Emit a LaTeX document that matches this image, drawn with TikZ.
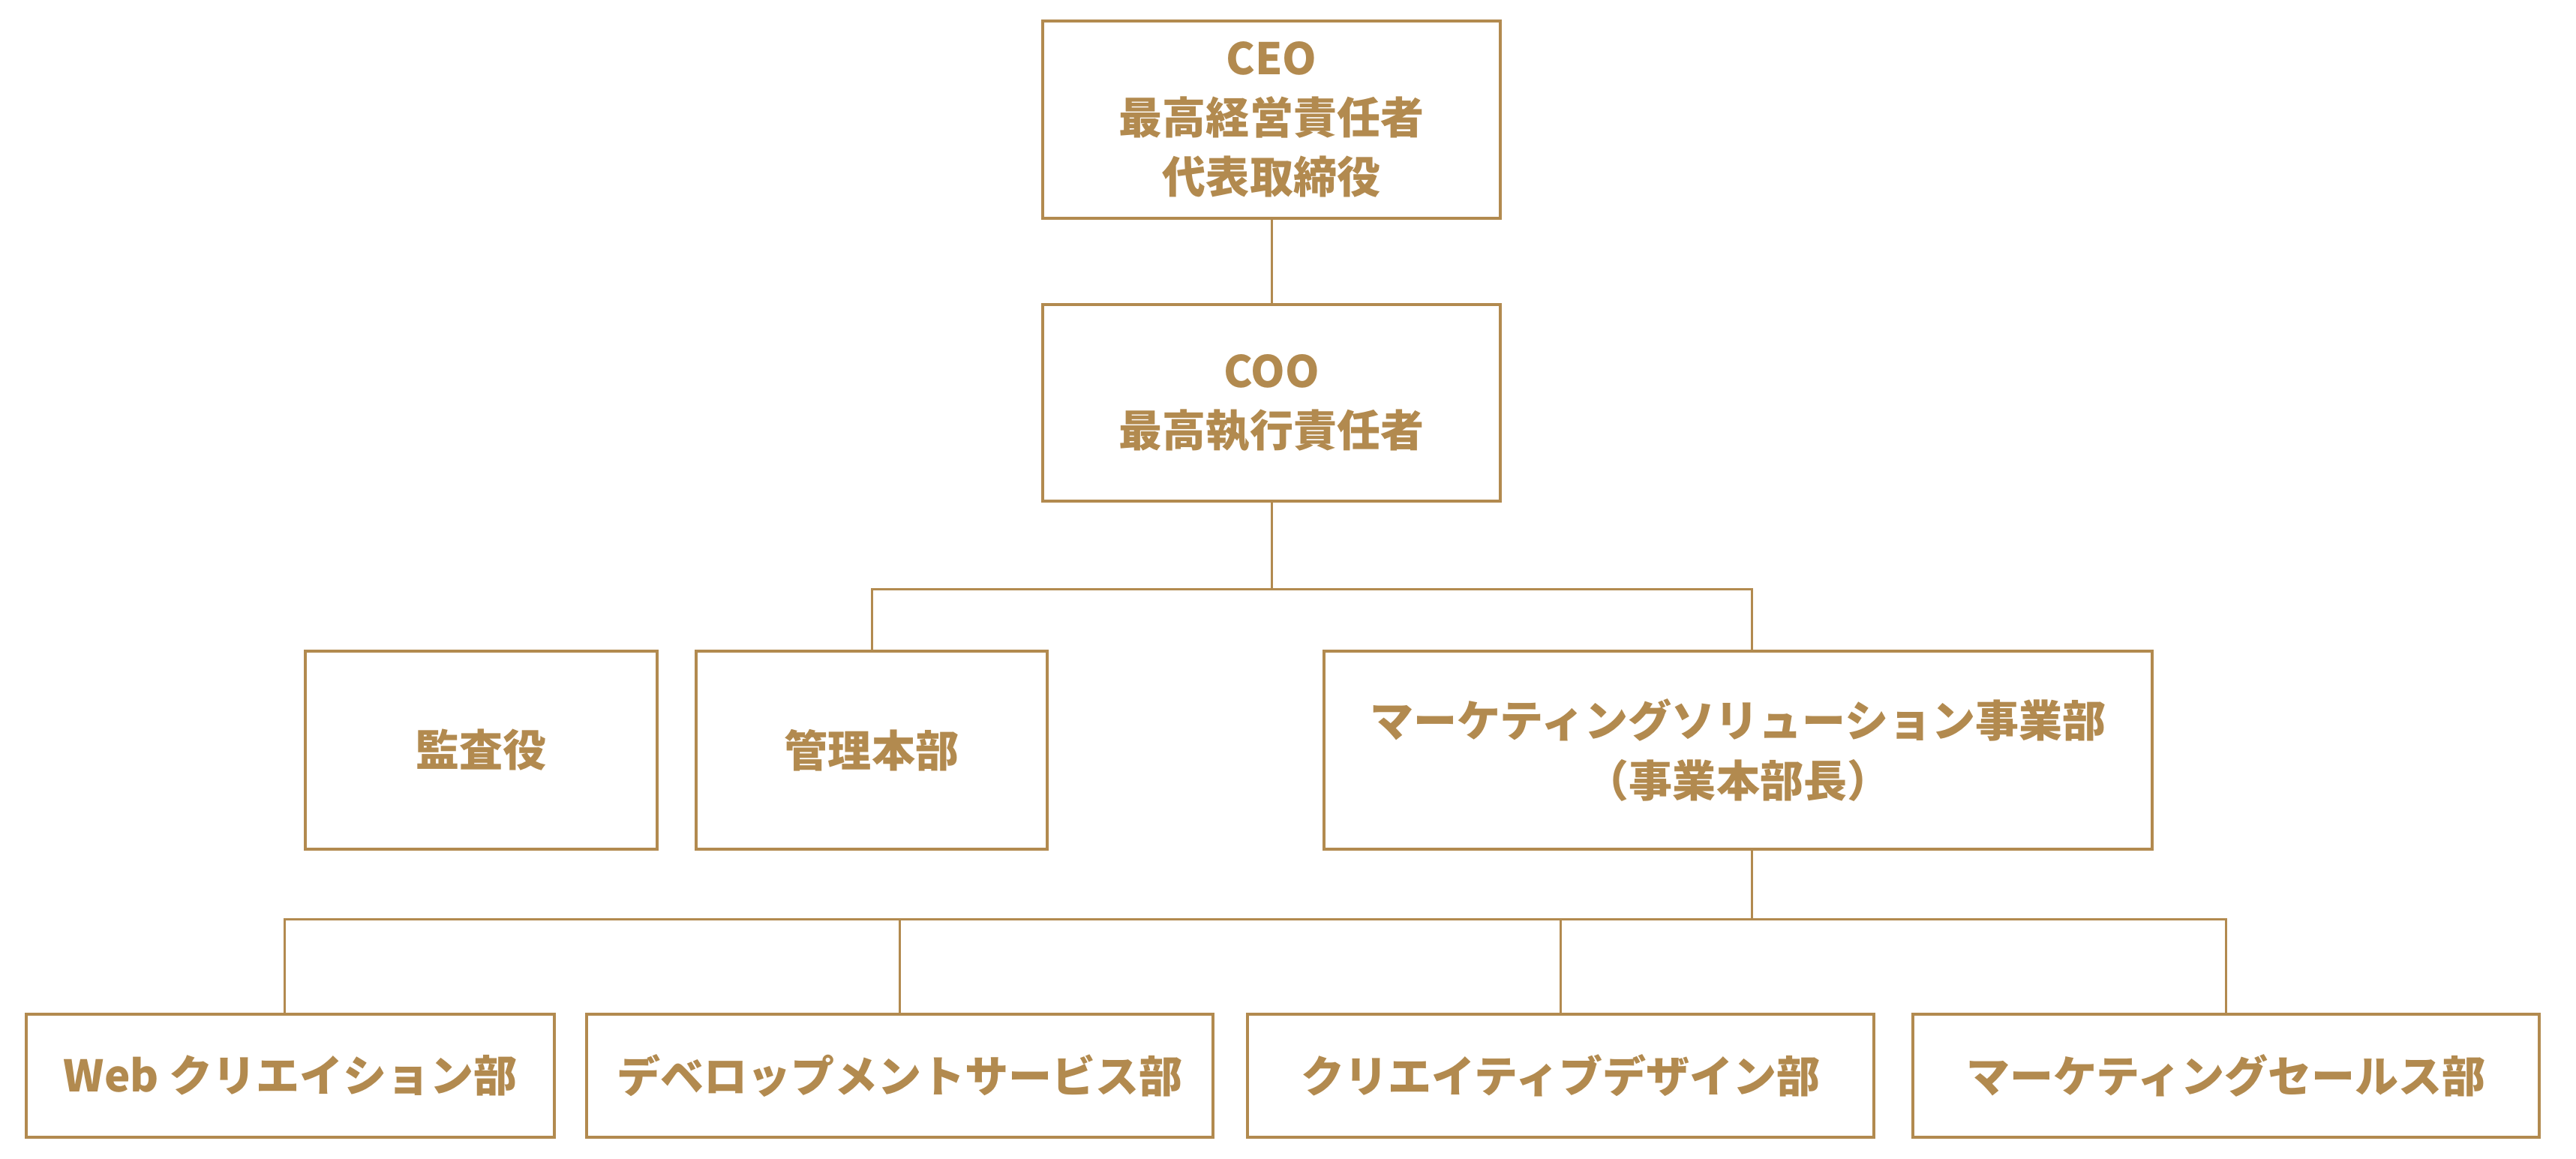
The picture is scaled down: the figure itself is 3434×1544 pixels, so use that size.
\documentclass[tikz,border=0pt]{standalone}
\usepackage{fontspec}
\newfontfamily\jp{Noto Sans CJK JP}
\definecolor{gold}{HTML}{B28A4F}
\tikzset{
  orgbox/.style={draw=gold, line width=1.15pt, fill=white, inner sep=0pt, align=center,
    text=gold, font=\jp\bfseries\fontsize{16.5}{22.5}\selectfont},
  link/.style={draw=gold, line width=0.85pt}
}
\begin{document}
\begin{tikzpicture}[x=0.01cm, y=-0.01cm]
\useasboundingbox (0,0) rectangle (3434,1544);
\fill[white] (0,0) rectangle (3434,1544);

\node[orgbox, minimum width=6.10cm, minimum height=2.63cm] (ceo) at (1695,159.5) {CEO\\最高経営責任者\\代表取締役};
\node[orgbox, minimum width=6.10cm, minimum height=2.62cm] (coo) at (1695,537) {COO\\最高執行責任者};

\node[orgbox, minimum width=4.69cm, minimum height=2.64cm] (kansa) at (641.5,1000) {監査役};
\node[orgbox, minimum width=4.68cm, minimum height=2.64cm] (kanri) at (1162,1000) {管理本部};
\node[orgbox, minimum width=11.04cm, minimum height=2.64cm] (mkt) at (2317,1000) {マーケティングソリューション事業部\\（事業本部長）};

\node[orgbox, minimum width=7.04cm, minimum height=1.64cm] (web) at (387,1434) {Web クリエイション部};
\node[orgbox, minimum width=8.35cm, minimum height=1.64cm] (dev) at (1199.5,1434) {デベロップメントサービス部};
\node[orgbox, minimum width=8.35cm, minimum height=1.64cm] (cre) at (2080.5,1434) {クリエイティブデザイン部};
\node[orgbox, minimum width=8.35cm, minimum height=1.64cm] (ms) at (2967.5,1434) {マーケティングセールス部};

\coordinate (bus1) at (1695,785);
\coordinate (mktin) at (2335,868);
\coordinate (mktout) at (2335,1132);
\coordinate (bus2) at (2335,1225);
\coordinate (webin) at (379,1352);

\draw[link] (ceo.south) -- (coo.north);
\draw[link] (coo.south) -- (bus1);
\draw[link] (kanri.north) -- (kanri.north |- bus1) -- (mktin |- bus1) -- (mktin);
\draw[link] (mktout) -- (bus2);
\draw[link] (webin) -- (webin |- bus2) -- (ms.north |- bus2) -- (ms.north);
\draw[link] (dev.north) -- (dev.north |- bus2);
\draw[link] (cre.north) -- (cre.north |- bus2);
\end{tikzpicture}
\end{document}
